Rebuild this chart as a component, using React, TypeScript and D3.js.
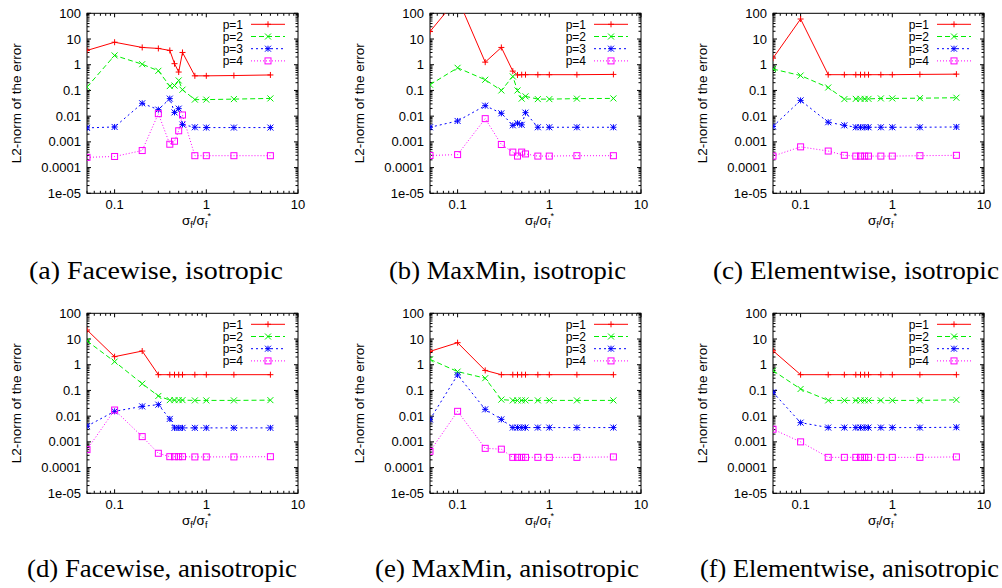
import React from "react";
import * as d3 from "d3";

// ---------- data ----------
const sigmaRatios = [0.05, 0.1, 0.2, 0.3, 0.4, 0.45, 0.5, 0.55, 0.75, 1, 2, 5];
const seriesNames = ["p=1", "p=2", "p=3", "p=4"];
const yTickValues = [100, 10, 1, 0.1, 0.01, 0.001, 0.0001, 1e-5];
const yTickLabels = ["100", "10", "1", "0.1", "0.01", "0.001", "0.0001", "1e-05"];
const xTickValues = [0.1, 1, 10];
const xTickLabels = ["0.1", "1", "10"];
const captions = [
  "(a) Facewise, isotropic",
  "(b) MaxMin, isotropic",
  "(c) Elementwise, isotropic",
  "(d) Facewise, anisotropic",
  "(e) MaxMin, anisotropic",
  "(f) Elementwise, anisotropic",
];

// (a) Facewise, isotropic
const faceIsoP1 = [3.6, 7.5, 4.7, 4.3, 3.6, 1.1, 0.52, 3.0, 0.37, 0.37, 0.38, 0.4];
const faceIsoP2 = [0.135, 2.3, 1.05, 0.58, 0.148, 0.155, 0.245, 0.107, 0.044, 0.044, 0.046, 0.049];
const faceIsoP3 = [0.0035, 0.0038, 0.0316, 0.0179, 0.048, 0.014, 0.0196, 0.0047, 0.0037, 0.0036, 0.0036, 0.0036];
const faceIsoP4 = [0.00025, 0.00027, 0.00046, 0.0125, 0.00081, 0.00106, 0.0027, 0.0111, 0.00029, 0.00029, 0.00029, 0.00029];
// (b) MaxMin, isotropic
const maxIsoP1 = [19.5, 390, 1.26, 4.7, 0.565, 0.4, 0.41, 0.41, 0.41, 0.41, 0.41, 0.42];
const maxIsoP2 = [0.167, 0.76, 0.26, 0.1, 0.35, 0.1, 0.048, 0.059, 0.046, 0.046, 0.048, 0.049];
const maxIsoP3 = [0.0037, 0.0065, 0.0256, 0.0129, 0.0044, 0.0053, 0.0046, 0.0137, 0.0037, 0.0037, 0.0037, 0.0037];
const maxIsoP4 = [0.000295, 0.00032, 0.008, 0.00079, 0.0004, 0.00028, 0.0004, 0.00034, 0.00028, 0.00028, 0.00029, 0.00029];
// (c) Elementwise, isotropic
const elemIsoP1 = [1.8, 60, 0.41, 0.41, 0.41, 0.41, 0.41, 0.41, 0.41, 0.41, 0.42, 0.43];
const elemIsoP2 = [0.68, 0.38, 0.13, 0.046, 0.047, 0.047, 0.047, 0.047, 0.049, 0.049, 0.05, 0.052];
const elemIsoP3 = [0.004, 0.041, 0.0058, 0.0044, 0.0037, 0.0037, 0.0037, 0.0037, 0.0037, 0.0037, 0.0037, 0.0038];
const elemIsoP4 = [0.00028, 0.00064, 0.00044, 0.0003, 0.00028, 0.00028, 0.00028, 0.00028, 0.00028, 0.00028, 0.00029, 0.0003];
// (d) Facewise, anisotropic
const faceAniP1 = [22.5, 2.06, 3.4, 0.41, 0.41, 0.41, 0.41, 0.41, 0.41, 0.41, 0.41, 0.41];
const faceAniP2 = [8.4, 1.32, 0.183, 0.061, 0.042, 0.042, 0.042, 0.042, 0.041, 0.041, 0.041, 0.042];
const faceAniP3 = [0.0041, 0.0154, 0.024, 0.028, 0.0078, 0.0035, 0.0035, 0.0035, 0.0035, 0.0035, 0.0035, 0.0035];
const faceAniP4 = [0.0005, 0.0173, 0.0016, 0.00036, 0.000265, 0.000265, 0.000265, 0.000265, 0.00026, 0.00026, 0.00026, 0.000265];
// (e) MaxMin, anisotropic
const maxAniP1 = [3.3, 7.2, 0.6, 0.41, 0.41, 0.41, 0.41, 0.41, 0.41, 0.41, 0.41, 0.41];
const maxAniP2 = [1.62, 0.54, 0.3, 0.044, 0.041, 0.041, 0.041, 0.041, 0.041, 0.041, 0.041, 0.041];
const maxAniP3 = [0.0075, 0.4, 0.0184, 0.0075, 0.0036, 0.0036, 0.0036, 0.0036, 0.0036, 0.0036, 0.0036, 0.0036];
const maxAniP4 = [0.00043, 0.0154, 0.00056, 0.00052, 0.00025, 0.00025, 0.00025, 0.00025, 0.00025, 0.00025, 0.00025, 0.00026];
// (f) Elementwise, anisotropic
const elemAniP1 = [3.5, 0.41, 0.41, 0.41, 0.41, 0.41, 0.41, 0.41, 0.41, 0.41, 0.41, 0.41];
const elemAniP2 = [0.59, 0.114, 0.041, 0.041, 0.041, 0.041, 0.041, 0.041, 0.041, 0.041, 0.041, 0.043];
const elemAniP3 = [0.084, 0.0056, 0.0036, 0.0036, 0.0036, 0.0036, 0.0036, 0.0036, 0.0036, 0.0036, 0.0036, 0.0037];
const elemAniP4 = [0.0031, 0.001, 0.00025, 0.00025, 0.00025, 0.00025, 0.00025, 0.00025, 0.00025, 0.00025, 0.00025, 0.00026];

const panelSeries = [
  [faceIsoP1, faceIsoP2, faceIsoP3, faceIsoP4],
  [maxIsoP1, maxIsoP2, maxIsoP3, maxIsoP4],
  [elemIsoP1, elemIsoP2, elemIsoP3, elemIsoP4],
  [faceAniP1, faceAniP2, faceAniP3, faceAniP4],
  [maxAniP1, maxAniP2, maxAniP3, maxAniP4],
  [elemAniP1, elemAniP2, elemAniP3, elemAniP4],
];

// ---------- styles / layout ----------
const colors = ["#ff0000", "#00ee00", "#0000ff", "#ff00ff"];
const dashes = [undefined, "5,3", "2,3", "1,2"];
const panelLefts = [87, 430, 773];
const panelTops = [13.3, 313.3];
const panelW = 211;
const panelH = 180;
const captionPos = [
  { x: 29, w: 254, y: 279 },
  { x: 389, w: 237, y: 279 },
  { x: 713, w: 286, y: 279 },
  { x: 27, w: 270, y: 577 },
  { x: 375, w: 264, y: 577 },
  { x: 700, w: 299, y: 577 },
];
const sans = "'Liberation Sans', Arial, Helvetica, sans-serif";
const serif = "'Liberation Serif', 'Times New Roman', serif";

function Marker({ kind, x, y, color }: { kind: number; x: number; y: number; color: string }) {
  const s = 3;
  let d = "";
  if (kind === 0) d = `M${x - s},${y}H${x + s}M${x},${y - s}V${y + s}`;
  else if (kind === 1) d = `M${x - s},${y - s}L${x + s},${y + s}M${x - s},${y + s}L${x + s},${y - s}`;
  else if (kind === 2)
    d = `M${x - s},${y}H${x + s}M${x},${y - s}V${y + s}M${x - s},${y - s}L${x + s},${y + s}M${x - s},${y + s}L${x + s},${y - s}`;
  if (kind === 3)
    return <rect x={x - s} y={y - s} width={2 * s} height={2 * s} fill="none" stroke={color} strokeWidth={1} />;
  return <path d={d} stroke={color} strokeWidth={1} fill="none" />;
}

function Panel({ idx }: { idx: number }) {
  const left = panelLefts[idx % 3];
  const top = panelTops[Math.floor(idx / 3)];
  const x = d3.scaleLog().domain([0.05, 10]).range([left, left + panelW]);
  const y = d3.scaleLog().domain([1e-5, 100]).range([top + panelH, top]);
  const line = d3
    .line<number>()
    .x((_, i) => x(sigmaRatios[i]))
    .y((v) => y(v));
  const clipId = `clip${idx}`;
  const bottom = top + panelH;
  const right = left + panelW;

  const majorLen = 4;
  const minorLen = 2.5;
  const ticks: JSX.Element[] = [];
  for (let e = -5; e <= 2; e++) {
    const v = Math.pow(10, e);
    const py = y(v);
    ticks.push(<line key={`ym${e}`} x1={left} x2={left + majorLen} y1={py} y2={py} />);
    ticks.push(<line key={`ymr${e}`} x1={right} x2={right - majorLen} y1={py} y2={py} />);
    if (e < 2) {
      for (let m = 2; m <= 9; m++) {
        const pm = y(v * m);
        ticks.push(<line key={`yn${e}-${m}`} x1={left} x2={left + minorLen} y1={pm} y2={pm} />);
        ticks.push(<line key={`ynr${e}-${m}`} x1={right} x2={right - minorLen} y1={pm} y2={pm} />);
      }
    }
  }
  for (let e = -2; e <= 1; e++) {
    for (let m = 1; m <= 9; m++) {
      const v = m * Math.pow(10, e);
      if (v < 0.05 - 1e-9 || v > 10 + 1e-9) continue;
      const px = x(v);
      const len = m === 1 ? majorLen : minorLen;
      ticks.push(<line key={`x${e}-${m}`} x1={px} x2={px} y1={bottom} y2={bottom - len} />);
      ticks.push(<line key={`xt${e}-${m}`} x1={px} x2={px} y1={top} y2={top + len} />);
    }
  }

  const series = panelSeries[idx];
  const cap = captionPos[idx];
  return (
    <g>
      <defs>
        <clipPath id={clipId}>
          <rect x={left} y={top} width={panelW} height={panelH} />
        </clipPath>
      </defs>
      <g stroke="#000" strokeWidth={1}>{ticks}</g>
      <rect x={left} y={top} width={panelW} height={panelH} fill="none" stroke="#000" strokeWidth={1} />
      {yTickValues.map((v, i) => (
        <text key={`yl${i}`} x={left - 6} y={y(v) + 4.5} textAnchor="end" fontFamily={sans} fontSize={13} fill="#000">
          {yTickLabels[i]}
        </text>
      ))}
      {xTickValues.map((v, i) => (
        <text key={`xl${i}`} x={x(v)} y={bottom + 16} textAnchor="middle" fontFamily={sans} fontSize={13} fill="#000">
          {xTickLabels[i]}
        </text>
      ))}
      <text
        transform={`translate(${left - 71},${top + panelH / 2}) rotate(-90)`}
        textAnchor="middle"
        fontFamily={sans}
        fontSize={13.5}
        fill="#000"
        dy={4.5}
      >
        L2-norm of the error
      </text>
      <text x={(left + right) / 2 + 4} y={bottom + 32} textAnchor="middle" fontFamily={sans} fontSize={13.5} fill="#000">
        σ<tspan fontSize={9} dy={3}>f</tspan>
        <tspan dy={-3}>/σ</tspan>
        <tspan fontSize={9} dy={3}>f</tspan>
        <tspan fontSize={9} dy={-9}>*</tspan>
      </text>
      <g clipPath={`url(#${clipId})`}>
        {series.map((vals, si) => (
          <g key={`s${si}`}>
            <path d={line(vals) || ""} fill="none" stroke={colors[si]} strokeWidth={1} strokeDasharray={dashes[si]} />
            {vals.map((v, i) => (
              <Marker key={i} kind={si} x={x(sigmaRatios[i])} y={y(v)} color={colors[si]} />
            ))}
          </g>
        ))}
      </g>
      {seriesNames.map((name, si) => {
        const ly = top + 11 + si * 12.2;
        const x1 = right - 47;
        const x2 = right - 13;
        return (
          <g key={`lg${si}`}>
            <text x={right - 55} y={ly + 4.5} textAnchor="end" fontFamily={sans} fontSize={12} fill="#000">
              {name}
            </text>
            <line x1={x1} x2={x2} y1={ly} y2={ly} stroke={colors[si]} strokeWidth={1} strokeDasharray={dashes[si]} />
            <Marker kind={si} x={(x1 + x2) / 2} y={ly} color={colors[si]} />
          </g>
        );
      })}
      <text
        x={cap.x}
        y={cap.y}
        fontFamily={serif}
        fontSize={25}
        fill="#000"
        textLength={cap.w}
        lengthAdjust="spacingAndGlyphs"
      >
        {captions[idx]}
      </text>
    </g>
  );
}

export default function App() {
  return (
    <svg
      width={1002}
      height={588}
      viewBox="0 0 1002 588"
      style={{ position: "absolute", left: 0, top: 0, background: "#fff" }}
    >
      <rect x={0} y={0} width={1002} height={588} fill="#fff" />
      {[0, 1, 2, 3, 4, 5].map((i) => (
        <Panel key={i} idx={i} />
      ))}
    </svg>
  );
}
